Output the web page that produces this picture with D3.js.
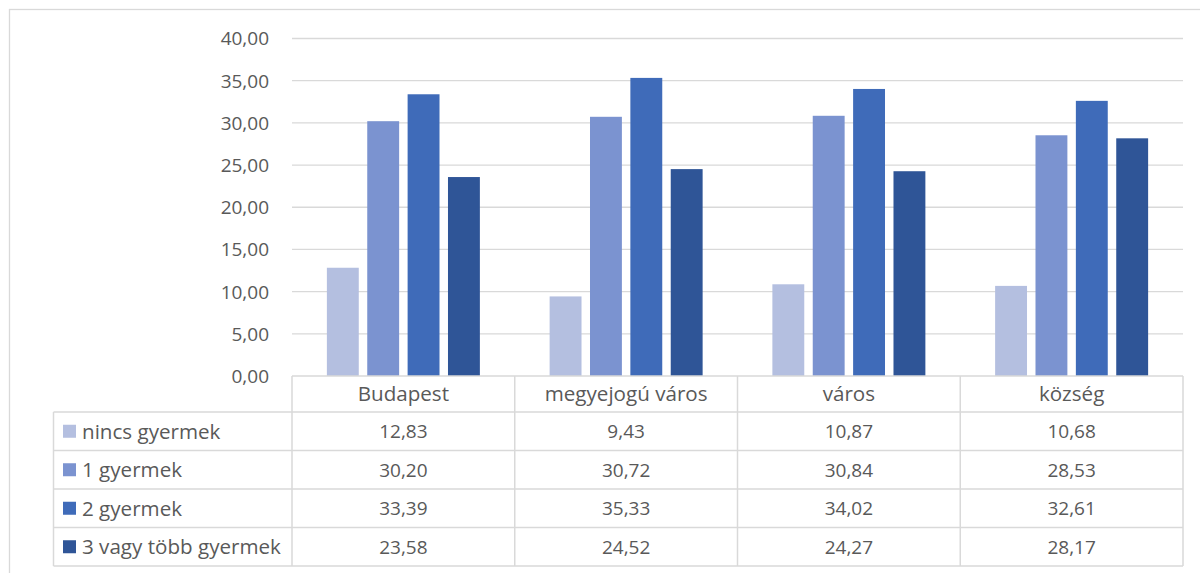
<!DOCTYPE html>
<html>
<head>
<meta charset="utf-8">
<script src="https://cdn.jsdelivr.net/npm/d3@7"></script>
<style>
  html, body { margin: 0; padding: 0; background: #fff; }
  svg { display: block; }
  text { font-family: "Open Sans", "Noto Sans", sans-serif; fill: #595959; }
</style>
</head>
<body>
<svg id="chart" width="1200" height="573"></svg>
<script>
// Categories (settlement types) and series (number of children)
const categories = ["Budapest", "megyejogú város", "város", "község"];
const seriesNames = ["nincs gyermek", "1 gyermek", "2 gyermek", "3 vagy több gyermek"];
const seriesColors = ["#b4bfe0", "#7b93d0", "#3f6bb9", "#2f5597"];
const valuesNincs = [12.83, 9.43, 10.87, 10.68];
const values1 = [30.20, 30.72, 30.84, 28.53];
const values2 = [33.39, 35.33, 34.02, 32.61];
const values3plus = [23.58, 24.52, 24.27, 28.17];
const yTicks = [0, 5, 10, 15, 20, 25, 30, 35, 40];

const seriesValues = [valuesNincs, values1, values2, values3plus];

const svg = d3.select("#chart");
const fmt = v => d3.format(".2f")(v).replace(".", ",");

// Layout
const plotLeft = 292, plotRight = 1183, plotTop = 38.5, plotBottom = 376;
const tableLeft = 53.5;
const rowEdges = [376, 412, 450.5, 489, 527.5, 566];
const gridColor = "#d9d9d9";
const numSize = 19, wordSize = 20.6;

// Outer chart border
svg.append("rect")
  .attr("x", 9.5).attr("y", 9.5)
  .attr("width", 1200).attr("height", 600)
  .attr("fill", "none").attr("stroke", gridColor).attr("stroke-width", 1.3);

const y = d3.scaleLinear().domain([0, 40]).range([plotBottom, plotTop]);
const x0 = d3.scaleBand().domain(categories).range([plotLeft, plotRight]).padding(0);
const groupWidth = 153;
const x1 = d3.scaleBand().domain(seriesNames)
  .range([(x0.bandwidth() - groupWidth) / 2, (x0.bandwidth() + groupWidth) / 2])
  .paddingInner(0.21).paddingOuter(0);

// Gridlines
svg.append("g").selectAll("line").data(yTicks.filter(t => t > 0)).join("line")
  .attr("x1", plotLeft).attr("x2", plotRight)
  .attr("y1", d => y(d)).attr("y2", d => y(d))
  .attr("stroke", gridColor).attr("stroke-width", 1.3);

// Y axis labels
const yAxis = d3.axisLeft(y).tickValues(yTicks).tickFormat(fmt).tickSize(0).tickPadding(0);
const gy = svg.append("g").attr("transform", "translate(269,0)").call(yAxis);
gy.select(".domain").remove();
gy.selectAll("text").attr("font-size", numSize).attr("fill", "#595959")
  .style("font-family", '"Open Sans", sans-serif').attr("dy", "0.34em");

// Bars
const groups = svg.append("g").selectAll("g").data(categories).join("g")
  .attr("transform", d => `translate(${x0(d)},0)`);
groups.selectAll("rect")
  .data((c, ci) => seriesNames.map((s, si) => ({ s, si, v: seriesValues[si][ci] })))
  .join("rect")
  .attr("x", d => x1(d.s))
  .attr("width", x1.bandwidth())
  .attr("y", d => y(d.v))
  .attr("height", d => y(0) - y(d.v))
  .attr("fill", d => seriesColors[d.si]);

// Data table
const table = svg.append("g");
// horizontal lines
table.append("line").attr("x1", plotLeft).attr("x2", plotRight)
  .attr("y1", rowEdges[0]).attr("y2", rowEdges[0])
  .attr("stroke", gridColor).attr("stroke-width", 1.5);
table.selectAll("line.h").data(rowEdges.slice(1)).join("line").attr("class", "h")
  .attr("x1", tableLeft).attr("x2", plotRight)
  .attr("y1", d => d).attr("y2", d => d)
  .attr("stroke", gridColor).attr("stroke-width", 1.5);
// vertical lines
const colEdges = categories.map(c => x0(c)).concat([plotRight]);
table.selectAll("line.v").data(colEdges).join("line").attr("class", "v")
  .attr("x1", d => d).attr("x2", d => d)
  .attr("y1", rowEdges[0]).attr("y2", rowEdges[5])
  .attr("stroke", gridColor).attr("stroke-width", 1.5);
table.append("line").attr("x1", tableLeft).attr("x2", tableLeft)
  .attr("y1", rowEdges[1]).attr("y2", rowEdges[5])
  .attr("stroke", gridColor).attr("stroke-width", 1.5);

// header labels
table.selectAll("text.cat").data(categories).join("text").attr("class", "cat")
  .attr("x", d => x0(d) + x0.bandwidth() / 2)
  .attr("y", (rowEdges[0] + rowEdges[1]) / 2)
  .attr("dy", "0.36em")
  .attr("text-anchor", "middle").attr("font-size", wordSize)
  .text(d => d);

// series rows: legend key, name and values
seriesNames.forEach((s, si) => {
  const cy = (rowEdges[si + 1] + rowEdges[si + 2]) / 2;
  table.append("rect")
    .attr("x", 63).attr("y", cy - 6.5).attr("width", 13).attr("height", 13)
    .attr("fill", seriesColors[si]);
  table.append("text")
    .attr("x", 82).attr("y", cy).attr("dy", "0.36em")
    .attr("font-size", wordSize).text(s);
  table.selectAll(null).data(seriesValues[si]).join("text")
    .attr("x", (d, ci) => x0(categories[ci]) + x0.bandwidth() / 2)
    .attr("y", cy).attr("dy", "0.36em")
    .attr("text-anchor", "middle").attr("font-size", numSize)
    .text(d => fmt(d));
});
</script>
</body>
</html>
